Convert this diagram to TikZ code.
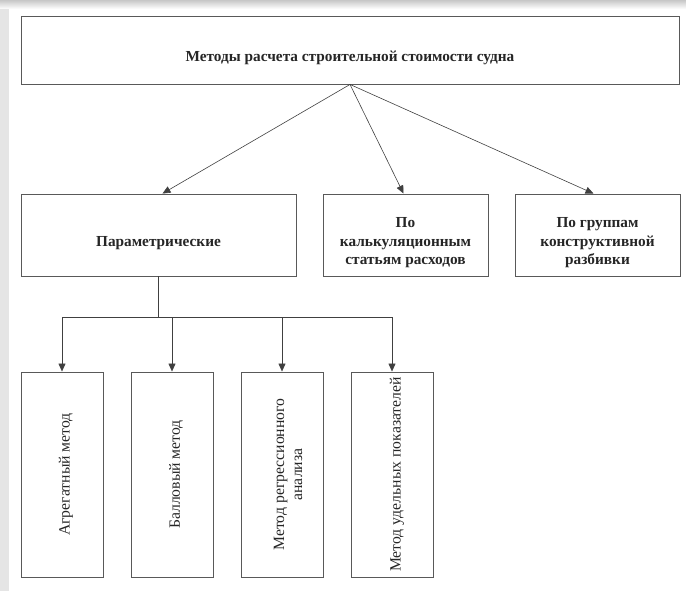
\documentclass[tikz,border=0pt]{standalone}
\usepackage{fontspec}
\setmainfont{Liberation Serif}
\usetikzlibrary{arrows.meta}

% pushes box text a little below the middle
\newcommand{\boxstrut}{\rule{0pt}{26pt}}

\tikzset{
  box/.style={draw=black!65, line width=0.9pt, fill=white, inner sep=2pt,
    align=center, font=\fontsize{15.3}{18.5}\selectfont\bfseries, text=black!85},
  leaf/.style={draw=black!65, line width=0.9pt, fill=white,
    minimum width=82pt, minimum height=205pt},
  leaftext/.style={rotate=90, align=center, text=black!85,
    font=\fontsize{15.7}{18}\selectfont},
  link/.style={draw=black!75, line width=0.6pt,
    -{Triangle[length=8pt,width=7pt]}}
}

\begin{document}
\begin{tikzpicture}[x=1pt,y=-1pt]
      \useasboundingbox (0,0) rectangle (686,591) ;
      % soft page shadow
      \shade[top color=black!22, bottom color=white] (0,0) rectangle (686,9) ;
      \fill[black!10] (0,9) rectangle (9,591) ;
      % top level
      \node[box, minimum width=658pt, minimum height=68pt] %
      (title) at (350,50) {\boxstrut Методы расчета строительной стоимости судна} ;
      \node[box, minimum width=275pt, minimum height=82pt] %
      (param) at (158.5,235) {\boxstrut Параметрические} ;
      \node[box, minimum width=165pt, minimum height=82pt] %
      (calc) at (405.5,235) {\boxstrut По\\калькуляционным\\статьям расходов} ;
      \node[box, minimum width=165pt, minimum height=82pt] %
      (group) at (597.5,235) {\boxstrut По группам\\конструктивной\\разбивки} ;
      \draw[link] (title.south) -- ([xshift=4pt]param.north) ;
      \draw[link] (title.south) -- ([xshift=-2pt]calc.north) ;
      \draw[link] (title.south) -- ([xshift=-4pt]group.north) ;
      % parametric methods
      \node[leaf] (agr) at (62,474.5) {} ;
      \node[leaf] (ball) at (172,474.5) {} ;
      \node[leaf] (regr) at (282,474.5) {} ;
      \node[leaf] (udel) at (392,474.5) {} ;
      \node[leaftext] (agrtext) at ([xshift=4pt]agr.center) {Агрегатный метод} ;
      \node[leaftext] (balltext) at ([xshift=4pt]ball.center) {Балловый метод} ;
      \node[leaftext] (regrtext) at ([xshift=6pt]regr.center) %
      {Метод регрессионного\\анализа} ;
      \node[leaftext] (udeltext) at ([xshift=5pt]udel.center) %
      {Метод удельных показателей} ;
      \draw[draw=black!75, line width=0.6pt] (param.south) -- ++(0,41) %
      coordinate (fork) ;
      \foreach \m in {agr,ball,regr,udel}
        \draw[link] (fork) -| (\m.north) ;
\end{tikzpicture}
\end{document}
